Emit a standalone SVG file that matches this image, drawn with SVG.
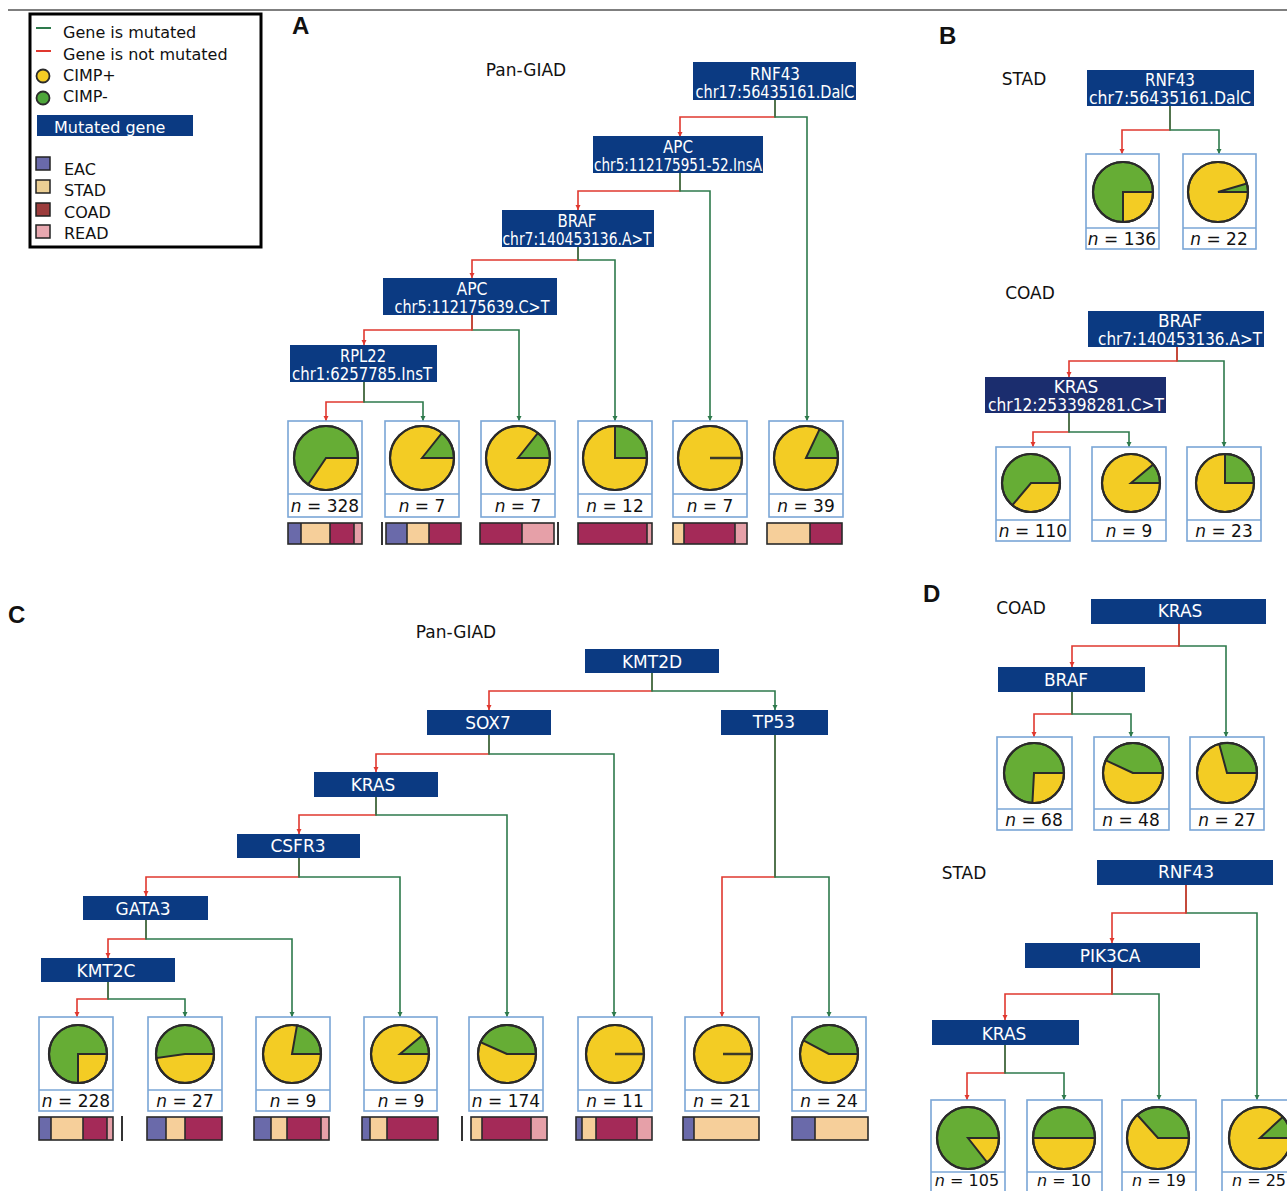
<svg xmlns="http://www.w3.org/2000/svg" width="1287" height="1191" viewBox="0 0 1287 1191">
<style>
text{font-family:"DejaVu Sans","Liberation Sans",sans-serif;fill:#111}
.lg{font-size:16px}
.ttl{font-size:17px}
.let{font-family:"Liberation Sans",Arial,sans-serif;font-weight:bold;font-size:24px}
.nb{fill:#0b3a82}
.nt{fill:#fff;font-size:17px;text-anchor:middle}
.leaf{fill:#fff;stroke:#7aa6d6;stroke-width:1.6}
.dv{stroke:#7aa6d6;stroke-width:1.6}
.pg{fill:#66ad35;stroke:#2a2a2a;stroke-width:2}
.py{fill:#f3cc24;stroke:#2a2a2a;stroke-width:2}
.po{fill:none;stroke:#2a2a2a;stroke-width:2.2}
.pl{stroke:#3a3a2a;stroke-width:2.5}
.n{font-size:17px;text-anchor:middle}
.nc{font-size:16px;text-anchor:middle}
.r{fill:none;stroke:#e0382f;stroke-width:1.6}
.g{fill:none;stroke:#2e7a4c;stroke-width:1.6}
.ea{fill:#6a6aaa}.st{fill:#f6cf9a}.co{fill:#a42a58}.re{fill:#e6a0a8}
.bo{fill:none;stroke:#2a2a2a;stroke-width:1.6}
.sep{stroke:#333;stroke-width:2}
</style>
<defs>
<marker id="ar" markerUnits="userSpaceOnUse" markerWidth="6" markerHeight="6" refX="5" refY="3" orient="auto"><path d="M0,0.5 L5,3 L0,5.5 Z" fill="#e0382f"/></marker>
<marker id="ag" markerUnits="userSpaceOnUse" markerWidth="6" markerHeight="6" refX="5" refY="3" orient="auto"><path d="M0,0.5 L5,3 L0,5.5 Z" fill="#2e7a4c"/></marker>
</defs>
<rect width="1287" height="1191" fill="#fff"/>
<line x1="8" y1="10" x2="1287" y2="10" stroke="#555" stroke-width="1.5"/>

<g id="legend">
<rect x="30" y="14" width="231" height="233" fill="#fff" stroke="#000" stroke-width="3"/>
<line x1="36" y1="28" x2="51" y2="28" stroke="#2e7a4c" stroke-width="2"/>
<text class="lg" x="63" y="38">Gene is mutated</text>
<line x1="36" y1="51" x2="51" y2="51" stroke="#e0382f" stroke-width="2"/>
<text class="lg" x="63" y="60">Gene is not mutated</text>
<circle cx="43" cy="76" r="6.5" fill="#f3cc24" stroke="#2a2a2a" stroke-width="1.8"/>
<text class="lg" x="63" y="81">CIMP+</text>
<circle cx="43" cy="98" r="6.5" fill="#4ea63a" stroke="#2a2a2a" stroke-width="1.8"/>
<text class="lg" x="63" y="102">CIMP-</text>
<rect x="37" y="115" width="156" height="21" fill="#0b3a82"/>
<text class="lg" x="54" y="133" style="fill:#fff">Mutated gene</text>
<rect x="36" y="157" width="14" height="13" fill="#6a6aaa" stroke="#222" stroke-width="1.5"/>
<text class="lg" x="64" y="175">EAC</text>
<rect x="36" y="180" width="14" height="13" fill="#eccf94" stroke="#222" stroke-width="1.5"/>
<text class="lg" x="64" y="196">STAD</text>
<rect x="36" y="203" width="14" height="13" fill="#9c3c3c" stroke="#222" stroke-width="1.5"/>
<text class="lg" x="64" y="218">COAD</text>
<rect x="36" y="225" width="14" height="13" fill="#e8a8b0" stroke="#222" stroke-width="1.5"/>
<text class="lg" x="64" y="239">READ</text>
</g>

<g id="panel-labels">
<text class="let" x="292" y="34">A</text>
<text class="let" x="939" y="44">B</text>
<text class="let" x="8" y="623">C</text>
<text class="let" x="923" y="602">D</text>
<text class="ttl" x="526" y="76" text-anchor="middle">Pan-GIAD</text>
<text class="ttl" x="1024" y="85" text-anchor="middle">STAD</text>
<text class="ttl" x="1030" y="299" text-anchor="middle">COAD</text>
<text class="ttl" x="456" y="638" text-anchor="middle">Pan-GIAD</text>
<text class="ttl" x="1021" y="614" text-anchor="middle">COAD</text>
<text class="ttl" x="964" y="879" text-anchor="middle">STAD</text>
</g>

<g id="connectors">
<path class="r" marker-end="url(#ar)" d="M775,100 V117 H680 V137"/>
<path class="g" marker-end="url(#ag)" d="M775,100 V117 H807 V421"/>
<path class="r" marker-end="url(#ar)" d="M680,173 V191 H578 V210"/>
<path class="g" marker-end="url(#ag)" d="M680,173 V191 H710 V421"/>
<path class="r" marker-end="url(#ar)" d="M578,247 V260 H472 V278"/>
<path class="g" marker-end="url(#ag)" d="M578,247 V260 H615 V421"/>
<path class="g" marker-end="url(#ag)" d="M472,315 V330 H519 V421"/>
<path class="r" marker-end="url(#ar)" d="M472,315 V330 H364 V345"/>
<path class="r" marker-end="url(#ar)" d="M364,382 V402 H326 V421"/>
<path class="g" marker-end="url(#ag)" d="M364,382 V402 H423 V421"/>
<path class="r" marker-end="url(#ar)" d="M1170,106 V130 H1122 V154"/>
<path class="g" marker-end="url(#ag)" d="M1170,106 V130 H1219 V154"/>
<path class="g" marker-end="url(#ag)" d="M1177,347 V361 H1224 V447"/>
<path class="r" marker-end="url(#ar)" d="M1177,347 V361 H1069 V377"/>
<path class="r" marker-end="url(#ar)" d="M1069,413 V432 H1033 V447"/>
<path class="g" marker-end="url(#ag)" d="M1069,413 V432 H1129 V447"/>
<path class="r" marker-end="url(#ar)" d="M652,673 V691 H489 V710"/>
<path class="g" marker-end="url(#ag)" d="M652,673 V691 H775 V710"/>
<path class="r" marker-end="url(#ar)" d="M489,735 V754 H376 V772"/>
<path class="g" marker-end="url(#ag)" d="M489,735 V754 H614 V1017"/>
<path class="r" marker-end="url(#ar)" d="M775,735 V877 H722 V1017"/>
<path class="g" marker-end="url(#ag)" d="M775,735 V877 H829 V1017"/>
<path class="r" marker-end="url(#ar)" d="M376,797 V815 H299 V834"/>
<path class="g" marker-end="url(#ag)" d="M376,797 V815 H507 V1017"/>
<path class="r" marker-end="url(#ar)" d="M299,858 V877 H146 V896"/>
<path class="g" marker-end="url(#ag)" d="M299,858 V877 H400 V1017"/>
<path class="r" marker-end="url(#ar)" d="M146,920 V939 H108 V958"/>
<path class="g" marker-end="url(#ag)" d="M146,920 V939 H292 V1017"/>
<path class="r" marker-end="url(#ar)" d="M108,982 V999 H77 V1017"/>
<path class="g" marker-end="url(#ag)" d="M108,982 V999 H185 V1017"/>
<path class="g" marker-end="url(#ag)" d="M1179,624 V646 H1226 V737"/>
<path class="r" marker-end="url(#ar)" d="M1179,624 V646 H1072 V667"/>
<path class="r" marker-end="url(#ar)" d="M1072,692 V714 H1034 V737"/>
<path class="g" marker-end="url(#ag)" d="M1072,692 V714 H1131 V737"/>
<path class="g" marker-end="url(#ag)" d="M1186,885 V913 H1257 V1100"/>
<path class="r" marker-end="url(#ar)" d="M1186,885 V913 H1112 V943"/>
<path class="g" marker-end="url(#ag)" d="M1112,968 V994 H1159 V1100"/>
<path class="r" marker-end="url(#ar)" d="M1112,968 V994 H1005 V1020"/>
<path class="r" marker-end="url(#ar)" d="M1005,1045 V1073 H967 V1100"/>
<path class="g" marker-end="url(#ag)" d="M1005,1045 V1073 H1064 V1100"/>
</g>

<g id="A-RNF43"><rect class="nb" x="693" y="62" width="163" height="38"/>
<text class="nt" x="775" y="80" textLength="50" lengthAdjust="spacingAndGlyphs">RNF43</text>
<text class="nt" x="775" y="98" textLength="159" lengthAdjust="spacingAndGlyphs">chr17:56435161.DalC</text></g>
<g id="A-APC1"><rect class="nb" x="593" y="136" width="170" height="37"/>
<text class="nt" x="678" y="153" textLength="30" lengthAdjust="spacingAndGlyphs">APC</text>
<text class="nt" x="678" y="171" textLength="168" lengthAdjust="spacingAndGlyphs">chr5:112175951-52.InsA</text></g>
<g id="A-BRAF"><rect class="nb" x="502" y="210" width="152" height="37"/>
<text class="nt" x="577" y="227" textLength="39" lengthAdjust="spacingAndGlyphs">BRAF</text>
<text class="nt" x="577" y="245" textLength="149" lengthAdjust="spacingAndGlyphs">chr7:140453136.A&gt;T</text></g>
<g id="A-APC2"><rect class="nb" x="383" y="278" width="174" height="37"/>
<text class="nt" x="472" y="295" textLength="31" lengthAdjust="spacingAndGlyphs">APC</text>
<text class="nt" x="472" y="313" textLength="155" lengthAdjust="spacingAndGlyphs">chr5:112175639.C&gt;T</text></g>
<g id="A-RPL22"><rect class="nb" x="290" y="345" width="147" height="37"/>
<text class="nt" x="363" y="362" textLength="46" lengthAdjust="spacingAndGlyphs">RPL22</text>
<text class="nt" x="362" y="380" textLength="140" lengthAdjust="spacingAndGlyphs">chr1:6257785.InsT</text></g>

<g id="A-leaf1"><rect class="leaf" x="288" y="421" width="74" height="96"/><line class="dv" x1="288" y1="494" x2="362" y2="494"/>
<circle class="pg" cx="326" cy="458" r="32"/><path class="py" d="M326,458 L358,458 A32,32 0 0 1 308.1,484.5 Z"/><circle class="po" cx="326" cy="458" r="32"/>
<text class="n" x="325" y="512"><tspan font-style="italic">n</tspan> = 328</text></g>
<g id="A-leaf2"><rect class="leaf" x="385" y="421" width="74" height="96"/><line class="dv" x1="385" y1="494" x2="459" y2="494"/>
<circle class="py" cx="422" cy="458" r="32"/><path class="pg" d="M422,458 L442,433 A32,32 0 0 1 454,458 Z"/><circle class="po" cx="422" cy="458" r="32"/>
<text class="n" x="422" y="512"><tspan font-style="italic">n</tspan> = 7</text></g>
<g id="A-leaf3"><rect class="leaf" x="481" y="421" width="74" height="96"/><line class="dv" x1="481" y1="494" x2="555" y2="494"/>
<circle class="py" cx="518" cy="458" r="32"/><path class="pg" d="M518,458 L538,433 A32,32 0 0 1 550,458 Z"/><circle class="po" cx="518" cy="458" r="32"/>
<text class="n" x="518" y="512"><tspan font-style="italic">n</tspan> = 7</text></g>
<g id="A-leaf4"><rect class="leaf" x="578" y="421" width="74" height="96"/><line class="dv" x1="578" y1="494" x2="652" y2="494"/>
<circle class="py" cx="615" cy="458" r="32"/><path class="pg" d="M615,458 L615,426 A32,32 0 0 1 647,458 Z"/><circle class="po" cx="615" cy="458" r="32"/>
<text class="n" x="615" y="512"><tspan font-style="italic">n</tspan> = 12</text></g>
<g id="A-leaf5"><rect class="leaf" x="673" y="421" width="74" height="96"/><line class="dv" x1="673" y1="494" x2="747" y2="494"/>
<circle class="py" cx="710" cy="458" r="32"/><line class="pl" x1="710" y1="458" x2="742" y2="458"/><circle class="po" cx="710" cy="458" r="32"/>
<text class="n" x="710" y="512"><tspan font-style="italic">n</tspan> = 7</text></g>
<g id="A-leaf6"><rect class="leaf" x="769" y="421" width="74" height="96"/><line class="dv" x1="769" y1="494" x2="843" y2="494"/>
<circle class="py" cx="806" cy="458" r="32"/><path class="pg" d="M806,458 L819.7,429.1 A32,32 0 0 1 838,458 Z"/><circle class="po" cx="806" cy="458" r="32"/>
<text class="n" x="806" y="512"><tspan font-style="italic">n</tspan> = 39</text></g>

<g id="A-bars">
<rect class="ea" x="288" y="523" width="13" height="21"/><rect class="st" x="301" y="523" width="29" height="21"/><rect class="co" x="330" y="523" width="24" height="21"/><rect class="re" x="354" y="523" width="8" height="21"/>
<line class="bo" x1="301" y1="523" x2="301" y2="544"/><line class="bo" x1="330" y1="523" x2="330" y2="544"/><line class="bo" x1="354" y1="523" x2="354" y2="544"/><rect class="bo" x="288" y="523" width="74" height="21"/>
<line class="sep" x1="382" y1="522" x2="382" y2="545"/>
<rect class="ea" x="386" y="523" width="21" height="21"/><rect class="st" x="407" y="523" width="22" height="21"/><rect class="co" x="429" y="523" width="32" height="21"/>
<line class="bo" x1="407" y1="523" x2="407" y2="544"/><line class="bo" x1="429" y1="523" x2="429" y2="544"/><rect class="bo" x="386" y="523" width="75" height="21"/>
<rect class="co" x="480" y="523" width="42" height="21"/><rect class="re" x="522" y="523" width="32" height="21"/>
<line class="bo" x1="522" y1="523" x2="522" y2="544"/><rect class="bo" x="480" y="523" width="74" height="21"/>
<line class="sep" x1="558" y1="522" x2="558" y2="545"/>
<rect class="co" x="578" y="523" width="69" height="21"/><rect class="re" x="647" y="523" width="5" height="21"/>
<line class="bo" x1="647" y1="523" x2="647" y2="544"/><rect class="bo" x="578" y="523" width="74" height="21"/>
<rect class="st" x="673" y="523" width="11" height="21"/><rect class="co" x="684" y="523" width="51" height="21"/><rect class="re" x="735" y="523" width="12" height="21"/>
<line class="bo" x1="684" y1="523" x2="684" y2="544"/><line class="bo" x1="735" y1="523" x2="735" y2="544"/><rect class="bo" x="673" y="523" width="74" height="21"/>
<rect class="st" x="767" y="523" width="43" height="21"/><rect class="co" x="810" y="523" width="32" height="21"/>
<line class="bo" x1="810" y1="523" x2="810" y2="544"/><rect class="bo" x="767" y="523" width="75" height="21"/>
</g>

<g id="B-RNF43"><rect class="nb" x="1087" y="70" width="167" height="36"/>
<text class="nt" x="1170" y="86" textLength="50" lengthAdjust="spacingAndGlyphs">RNF43</text>
<text class="nt" x="1170" y="104" textLength="162" lengthAdjust="spacingAndGlyphs">chr7:56435161.DalC</text></g>
<g id="B-leaf1"><rect class="leaf" x="1086" y="154" width="73" height="95"/><line class="dv" x1="1086" y1="228" x2="1159" y2="228"/>
<circle class="pg" cx="1123" cy="192" r="30"/><path class="py" d="M1123,192 L1153,192 A30,30 0 0 1 1123,222 Z"/><circle class="po" cx="1123" cy="192" r="30"/>
<text class="n" x="1122" y="245"><tspan font-style="italic">n</tspan> = 136</text></g>
<g id="B-leaf2"><rect class="leaf" x="1183" y="154" width="73" height="95"/><line class="dv" x1="1183" y1="228" x2="1256" y2="228"/>
<circle class="py" cx="1218" cy="192" r="30"/><path class="pg" d="M1218,192 L1246.8,183.5 A30,30 0 0 1 1248,192 Z"/><circle class="po" cx="1218" cy="192" r="30"/>
<text class="n" x="1219" y="245"><tspan font-style="italic">n</tspan> = 22</text></g>

<g id="B-BRAF"><rect class="nb" x="1088" y="311" width="176" height="36"/>
<text class="nt" x="1180" y="327">BRAF</text>
<text class="nt" x="1180" y="345" textLength="164" lengthAdjust="spacingAndGlyphs">chr7:140453136.A&gt;T</text></g>
<g id="B-KRAS"><rect x="985" y="377" width="181" height="36" fill="#1b2d6e"/>
<text class="nt" x="1076" y="393">KRAS</text>
<text class="nt" x="1076" y="411" textLength="176" lengthAdjust="spacingAndGlyphs">chr12:253398281.C&gt;T</text></g>
<g id="B-leaf3"><rect class="leaf" x="996" y="447" width="74" height="94"/><line class="dv" x1="996" y1="520" x2="1070" y2="520"/>
<circle class="pg" cx="1031" cy="483" r="29"/><path class="py" d="M1031,483 L1060,483 A29,29 0 0 1 1012.4,505.2 Z"/><circle class="po" cx="1031" cy="483" r="29"/>
<text class="n" x="1033" y="537"><tspan font-style="italic">n</tspan> = 110</text></g>
<g id="B-leaf4"><rect class="leaf" x="1092" y="447" width="74" height="94"/><line class="dv" x1="1092" y1="520" x2="1166" y2="520"/>
<circle class="py" cx="1131" cy="483" r="29"/><path class="pg" d="M1131,483 L1153.2,464.4 A29,29 0 0 1 1160,483 Z"/><circle class="po" cx="1131" cy="483" r="29"/>
<text class="n" x="1129" y="537"><tspan font-style="italic">n</tspan> = 9</text></g>
<g id="B-leaf5"><rect class="leaf" x="1187" y="447" width="74" height="94"/><line class="dv" x1="1187" y1="520" x2="1261" y2="520"/>
<circle class="py" cx="1225" cy="483" r="29"/><path class="pg" d="M1225,483 L1225,454 A29,29 0 0 1 1254,483 Z"/><circle class="po" cx="1225" cy="483" r="29"/>
<text class="n" x="1224" y="537"><tspan font-style="italic">n</tspan> = 23</text></g>

<g id="C-KMT2D"><rect class="nb" x="585" y="649" width="134" height="24"/><text class="nt" x="652" y="668">KMT2D</text></g>
<g id="C-SOX7"><rect class="nb" x="427" y="710" width="124" height="25"/><text class="nt" x="488" y="729">SOX7</text></g>
<g id="C-TP53"><rect class="nb" x="721" y="710" width="107" height="25"/><text class="nt" x="774" y="728">TP53</text></g>
<g id="C-KRAS"><rect class="nb" x="314" y="772" width="124" height="25"/><text class="nt" x="373" y="791">KRAS</text></g>
<g id="C-CSFR3"><rect class="nb" x="237" y="834" width="123" height="24"/><text class="nt" x="298" y="852">CSFR3</text></g>
<g id="C-GATA3"><rect class="nb" x="83" y="896" width="125" height="24"/><text class="nt" x="143" y="915">GATA3</text></g>
<g id="C-KMT2C"><rect class="nb" x="41" y="958" width="134" height="24"/><text class="nt" x="106" y="977">KMT2C</text></g>

<g id="C-leaf1"><rect class="leaf" x="39" y="1017" width="74" height="94"/><line class="dv" x1="39" y1="1090" x2="113" y2="1090"/>
<circle class="pg" cx="78" cy="1054" r="29"/><path class="py" d="M78,1054 L107,1054 A29,29 0 0 1 78,1083 Z"/><circle class="po" cx="78" cy="1054" r="29"/>
<text class="n" x="76" y="1107"><tspan font-style="italic">n</tspan> = 228</text></g>
<g id="C-leaf2"><rect class="leaf" x="148" y="1017" width="74" height="94"/><line class="dv" x1="148" y1="1090" x2="222" y2="1090"/>
<circle class="pg" cx="185" cy="1054" r="29"/><path class="py" d="M185,1054 L214,1054 A29,29 0 0 1 156.3,1058 Z"/><circle class="po" cx="185" cy="1054" r="29"/>
<text class="n" x="185" y="1107"><tspan font-style="italic">n</tspan> = 27</text></g>
<g id="C-leaf3"><rect class="leaf" x="256" y="1017" width="74" height="94"/><line class="dv" x1="256" y1="1090" x2="330" y2="1090"/>
<circle class="py" cx="292" cy="1054" r="29"/><path class="pg" d="M292,1054 L297,1025.4 A29,29 0 0 1 321,1054 Z"/><circle class="po" cx="292" cy="1054" r="29"/>
<text class="n" x="293" y="1107"><tspan font-style="italic">n</tspan> = 9</text></g>
<g id="C-leaf4"><rect class="leaf" x="364" y="1017" width="73" height="94"/><line class="dv" x1="364" y1="1090" x2="437" y2="1090"/>
<circle class="py" cx="400" cy="1054" r="29"/><path class="pg" d="M400,1054 L422.2,1035.4 A29,29 0 0 1 429,1054 Z"/><circle class="po" cx="400" cy="1054" r="29"/>
<text class="n" x="401" y="1107"><tspan font-style="italic">n</tspan> = 9</text></g>
<g id="C-leaf5"><rect class="leaf" x="469" y="1017" width="74" height="94"/><line class="dv" x1="469" y1="1090" x2="543" y2="1090"/>
<circle class="py" cx="507" cy="1054" r="29"/><path class="pg" d="M507,1054 L480.5,1042.2 A29,29 0 0 1 536,1054 Z"/><circle class="po" cx="507" cy="1054" r="29"/>
<text class="n" x="506" y="1107"><tspan font-style="italic">n</tspan> = 174</text></g>
<g id="C-leaf6"><rect class="leaf" x="578" y="1017" width="74" height="94"/><line class="dv" x1="578" y1="1090" x2="652" y2="1090"/>
<circle class="py" cx="615" cy="1054" r="29"/><line class="pl" x1="615" y1="1054" x2="644" y2="1054"/><circle class="po" cx="615" cy="1054" r="29"/>
<text class="n" x="615" y="1107"><tspan font-style="italic">n</tspan> = 11</text></g>
<g id="C-leaf7"><rect class="leaf" x="685" y="1017" width="74" height="94"/><line class="dv" x1="685" y1="1090" x2="759" y2="1090"/>
<circle class="py" cx="723" cy="1054" r="29"/><line class="pl" x1="723" y1="1054" x2="752" y2="1054"/><circle class="po" cx="723" cy="1054" r="29"/>
<text class="n" x="722" y="1107"><tspan font-style="italic">n</tspan> = 21</text></g>
<g id="C-leaf8"><rect class="leaf" x="792" y="1017" width="74" height="94"/><line class="dv" x1="792" y1="1090" x2="866" y2="1090"/>
<circle class="py" cx="829" cy="1054" r="29"/><path class="pg" d="M829,1054 L803.4,1040.4 A29,29 0 0 1 858,1054 Z"/><circle class="po" cx="829" cy="1054" r="29"/>
<text class="n" x="829" y="1107"><tspan font-style="italic">n</tspan> = 24</text></g>

<g id="C-bars">
<rect class="ea" x="39" y="1117" width="12" height="23"/><rect class="st" x="51" y="1117" width="32" height="23"/><rect class="co" x="83" y="1117" width="24" height="23"/><rect class="re" x="107" y="1117" width="6" height="23"/>
<line class="bo" x1="51" y1="1117" x2="51" y2="1140"/><line class="bo" x1="83" y1="1117" x2="83" y2="1140"/><line class="bo" x1="107" y1="1117" x2="107" y2="1140"/><rect class="bo" x="39" y="1117" width="74" height="23"/>
<line class="sep" x1="122" y1="1116" x2="122" y2="1141"/>
<rect class="ea" x="147" y="1117" width="19" height="23"/><rect class="st" x="166" y="1117" width="19" height="23"/><rect class="co" x="185" y="1117" width="37" height="23"/>
<line class="bo" x1="166" y1="1117" x2="166" y2="1140"/><line class="bo" x1="185" y1="1117" x2="185" y2="1140"/><rect class="bo" x="147" y="1117" width="75" height="23"/>
<rect class="ea" x="254" y="1117" width="17" height="23"/><rect class="st" x="271" y="1117" width="16" height="23"/><rect class="co" x="287" y="1117" width="34" height="23"/><rect class="re" x="321" y="1117" width="8" height="23"/>
<line class="bo" x1="271" y1="1117" x2="271" y2="1140"/><line class="bo" x1="287" y1="1117" x2="287" y2="1140"/><line class="bo" x1="321" y1="1117" x2="321" y2="1140"/><rect class="bo" x="254" y="1117" width="75" height="23"/>
<rect class="ea" x="362" y="1117" width="8" height="23"/><rect class="st" x="370" y="1117" width="17" height="23"/><rect class="co" x="387" y="1117" width="51" height="23"/>
<line class="bo" x1="370" y1="1117" x2="370" y2="1140"/><line class="bo" x1="387" y1="1117" x2="387" y2="1140"/><rect class="bo" x="362" y="1117" width="76" height="23"/>
<line class="sep" x1="462" y1="1116" x2="462" y2="1141"/>
<rect class="st" x="471" y="1117" width="11" height="23"/><rect class="co" x="482" y="1117" width="49" height="23"/><rect class="re" x="531" y="1117" width="16" height="23"/>
<line class="bo" x1="482" y1="1117" x2="482" y2="1140"/><line class="bo" x1="531" y1="1117" x2="531" y2="1140"/><rect class="bo" x="471" y="1117" width="76" height="23"/>
<rect class="ea" x="576" y="1117" width="6" height="23"/><rect class="st" x="582" y="1117" width="14" height="23"/><rect class="co" x="596" y="1117" width="41" height="23"/><rect class="re" x="637" y="1117" width="15" height="23"/>
<line class="bo" x1="582" y1="1117" x2="582" y2="1140"/><line class="bo" x1="596" y1="1117" x2="596" y2="1140"/><line class="bo" x1="637" y1="1117" x2="637" y2="1140"/><rect class="bo" x="576" y="1117" width="76" height="23"/>
<rect class="ea" x="683" y="1117" width="11" height="23"/><rect class="st" x="694" y="1117" width="65" height="23"/>
<line class="bo" x1="694" y1="1117" x2="694" y2="1140"/><rect class="bo" x="683" y="1117" width="76" height="23"/>
<rect class="ea" x="792" y="1117" width="23" height="23"/><rect class="st" x="815" y="1117" width="53" height="23"/>
<line class="bo" x1="815" y1="1117" x2="815" y2="1140"/><rect class="bo" x="792" y="1117" width="76" height="23"/>
</g>

<g id="D-KRAS"><rect class="nb" x="1091" y="599" width="175" height="25"/><text class="nt" x="1180" y="617">KRAS</text></g>
<g id="D-BRAF"><rect class="nb" x="998" y="667" width="147" height="25"/><text class="nt" x="1066" y="686">BRAF</text></g>
<g id="D-leaf1"><rect class="leaf" x="997" y="737" width="75" height="93"/><line class="dv" x1="997" y1="809" x2="1072" y2="809"/>
<circle class="pg" cx="1034" cy="773" r="30"/><path class="py" d="M1034,773 L1064,773 A30,30 0 0 1 1032.4,803 Z"/><circle class="po" cx="1034" cy="773" r="30"/>
<text class="n" x="1034" y="826"><tspan font-style="italic">n</tspan> = 68</text></g>
<g id="D-leaf2"><rect class="leaf" x="1094" y="737" width="75" height="93"/><line class="dv" x1="1094" y1="809" x2="1169" y2="809"/>
<circle class="py" cx="1133" cy="773" r="30"/><path class="pg" d="M1133,773 L1105.8,760.3 A30,30 0 0 1 1163,773 Z"/><circle class="po" cx="1133" cy="773" r="30"/>
<text class="n" x="1131" y="826"><tspan font-style="italic">n</tspan> = 48</text></g>
<g id="D-leaf3"><rect class="leaf" x="1190" y="737" width="74" height="93"/><line class="dv" x1="1190" y1="809" x2="1264" y2="809"/>
<circle class="py" cx="1227" cy="773" r="30"/><path class="pg" d="M1227,773 L1219.2,744 A30,30 0 0 1 1257,773 Z"/><circle class="po" cx="1227" cy="773" r="30"/>
<text class="n" x="1227" y="826"><tspan font-style="italic">n</tspan> = 27</text></g>

<g id="D-RNF43"><rect class="nb" x="1097" y="860" width="176" height="25"/><text class="nt" x="1186" y="878">RNF43</text></g>
<g id="D-PIK3CA"><rect class="nb" x="1025" y="943" width="175" height="25"/><text class="nt" x="1110" y="962">PIK3CA</text></g>
<g id="D-KRAS2"><rect class="nb" x="932" y="1020" width="147" height="25"/><text class="nt" x="1004" y="1040">KRAS</text></g>
<g id="D-leaf4"><rect class="leaf" x="931" y="1100" width="74" height="100"/><line class="dv" x1="931" y1="1172" x2="1005" y2="1172"/>
<circle class="pg" cx="968" cy="1138" r="31"/><path class="py" d="M968,1138 L999,1138 A31,31 0 0 1 987.1,1162.4 Z"/><circle class="po" cx="968" cy="1138" r="31"/>
<text class="nc" x="967" y="1186"><tspan font-style="italic">n</tspan> = 105</text></g>
<g id="D-leaf5"><rect class="leaf" x="1027" y="1100" width="75" height="100"/><line class="dv" x1="1027" y1="1172" x2="1102" y2="1172"/>
<circle class="pg" cx="1064" cy="1138" r="31"/><path class="py" d="M1064,1138 L1095,1138 A31,31 0 0 1 1033,1138 Z"/><circle class="po" cx="1064" cy="1138" r="31"/>
<text class="nc" x="1064" y="1186"><tspan font-style="italic">n</tspan> = 10</text></g>
<g id="D-leaf6"><rect class="leaf" x="1122" y="1100" width="74" height="100"/><line class="dv" x1="1122" y1="1172" x2="1196" y2="1172"/>
<circle class="py" cx="1158" cy="1138" r="31"/><path class="pg" d="M1158,1138 L1137.3,1115 A31,31 0 0 1 1189,1138 Z"/><circle class="po" cx="1158" cy="1138" r="31"/>
<text class="nc" x="1159" y="1186"><tspan font-style="italic">n</tspan> = 19</text></g>
<g id="D-leaf7"><rect class="leaf" x="1222" y="1100" width="74" height="100"/><line class="dv" x1="1222" y1="1172" x2="1296" y2="1172"/>
<circle class="py" cx="1260" cy="1138" r="31"/><path class="pg" d="M1260,1138 L1282.7,1116.9 A31,31 0 0 1 1291,1138 Z"/><circle class="po" cx="1260" cy="1138" r="31"/>
<text class="nc" x="1259" y="1186"><tspan font-style="italic">n</tspan> = 25</text></g>
</svg>
